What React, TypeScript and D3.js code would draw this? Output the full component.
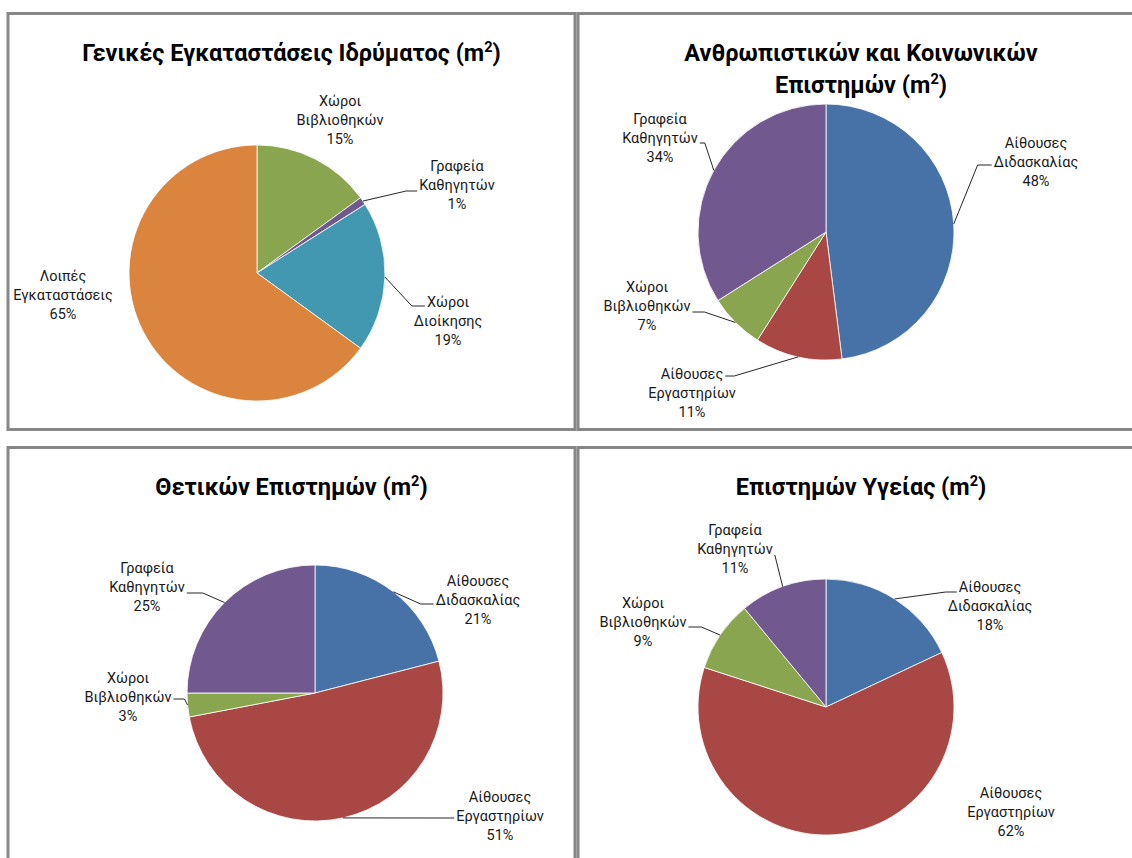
import React, { useEffect, useRef } from "react";
import * as d3 from "d3";

const W = 1132;
const H = 858;

// ---- data ----
const generalTitle = ["Γενικές Εγκαταστάσεις Ιδρύματος (m²)"];
const generalCategories = ["Χώροι Βιβλιοθηκών", "Γραφεία Καθηγητών", "Χώροι Διοίκησης", "Λοιπές Εγκαταστάσεις"];
const generalValues = [15, 1, 19, 65];
const generalColors = ["#8aa54f", "#71598f", "#4198b0", "#db843d"];

const facultyCategories = ["Αίθουσες Διδασκαλίας", "Αίθουσες Εργαστηρίων", "Χώροι Βιβλιοθηκών", "Γραφεία Καθηγητών"];
const facultyColors = ["#4672a8", "#a94744", "#8aa54f", "#71598f"];

const humanitiesTitle = ["Ανθρωπιστικών και Κοινωνικών", "Επιστημών (m²)"];
const humanitiesValues = [48, 11, 7, 34];

const sciencesTitle = ["Θετικών Επιστημών (m²)"];
const sciencesValues = [21, 51, 3, 25];

const healthTitle = ["Επιστημών Υγείας (m²)"];
const healthValues = [18, 62, 9, 11];

// ---- layout ----
const FONT = "Roboto, 'Noto Sans', sans-serif";
const TITLE_SIZE = 23.5;
const LABEL_SIZE = 14.5;
const LINE_H = 19;
const R = 128;

type Lead = { line: number; dy: number; h: number };
type LabelPos = { dx: number; dy: number; lead?: Lead };
type Panel = {
  title: string[];
  categories: string[];
  values: number[];
  colors: string[];
  box: [number, number, number, number];
  center: [number, number];
  titleY: number[];
  labels: LabelPos[];
};

const panels: Panel[] = [
  {
    title: generalTitle,
    categories: generalCategories,
    values: generalValues,
    colors: generalColors,
    box: [8, 13.5, 567, 416],
    center: [257, 273],
    titleY: [61],
    labels: [
      { dx: 83, dy: -153 },
      { dx: 200, dy: -88, lead: { line: 1, dy: 6, h: 11 } },
      { dx: 191, dy: 48, lead: { line: 0, dy: 4, h: 13 } },
      { dx: -194, dy: 22 },
    ],
  },
  {
    title: humanitiesTitle,
    categories: facultyCategories,
    values: humanitiesValues,
    colors: facultyColors,
    box: [578, 13.5, 566, 416],
    center: [826, 232],
    titleY: [61, 93],
    labels: [
      { dx: 210, dy: -70, lead: { line: 1, dy: 3, h: 14 } },
      { dx: -134, dy: 161, lead: { line: 0, dy: 2, h: 9 } },
      { dx: -179, dy: 74, lead: { line: 1, dy: 6, h: 12 } },
      { dx: -166, dy: -94, lead: { line: 1, dy: 5, h: 5 } },
    ],
  },
  {
    title: sciencesTitle,
    categories: facultyCategories,
    values: sciencesValues,
    colors: facultyColors,
    box: [8, 447.5, 567, 430],
    center: [315, 693],
    titleY: [495],
    labels: [
      { dx: 163, dy: -93, lead: { line: 1, dy: 4, h: 13 } },
      { dx: 185, dy: 123, lead: { line: 1, dy: 2, h: 13 } },
      { dx: -187, dy: 4, lead: { line: 1, dy: 2, h: 11 } },
      { dx: -168, dy: -106, lead: { line: 1, dy: 6, h: 16 } },
    ],
  },
  {
    title: healthTitle,
    categories: facultyCategories,
    values: healthValues,
    colors: facultyColors,
    box: [578, 447.5, 566, 430],
    center: [826, 707],
    titleY: [495],
    labels: [
      { dx: 164, dy: -101, lead: { line: 0, dy: 5, h: 11 } },
      { dx: 185, dy: 105 },
      { dx: -183, dy: -85, lead: { line: 1, dy: 5, h: 13 } },
      { dx: -91, dy: -158, lead: { line: 1, dy: 6, h: 0 } },
    ],
  },
];

export default function App() {
  const ref = useRef<SVGSVGElement>(null);

  useEffect(() => {
    const svg = d3.select(ref.current);
    svg.selectAll("*").remove();
    svg.append("rect").attr("width", W).attr("height", H).attr("fill", "#ffffff");

    panels.forEach((p) => {
      const g = svg.append("g");
      g.append("rect")
        .attr("x", p.box[0])
        .attr("y", p.box[1])
        .attr("width", p.box[2])
        .attr("height", p.box[3])
        .attr("fill", "#ffffff")
        .attr("stroke", "#878787")
        .attr("stroke-width", 3);

      const tcx = p.box[0] + p.box[2] / 2;
      p.title.forEach((line, i) => {
        const t = g
          .append("text")
          .attr("x", tcx)
          .attr("y", p.titleY[i])
          .attr("text-anchor", "middle")
          .attr("font-family", FONT)
          .attr("font-weight", 700)
          .attr("font-size", TITLE_SIZE)
          .attr("fill", "#000000");
        const parts = line.split("²");
        t.append("tspan").text(parts[0]);
        if (parts.length > 1) {
          t.append("tspan").attr("font-size", TITLE_SIZE * 0.62).attr("dy", -9).text("2");
          t.append("tspan").attr("dy", 9).text(parts[1]);
        }
      });

      const pie = d3.pie<number>().sort(null).value((d) => d);
      const arcs = pie(p.values);
      const arc = d3.arc<d3.PieArcDatum<number>>().innerRadius(0).outerRadius(R);
      const pg = g.append("g").attr("transform", `translate(${p.center[0]},${p.center[1]})`);
      pg.selectAll("path")
        .data(arcs)
        .join("path")
        .attr("d", arc as any)
        .attr("fill", (_d, i) => p.colors[i])
        .attr("stroke", "#ffffff")
        .attr("stroke-opacity", 0.8)
        .attr("stroke-width", 1);

      const total = d3.sum(p.values);
      arcs.forEach((a, i) => {
        const L = p.labels[i];
        const words = p.categories[i].split(" ");
        const lines = [...words, Math.round((a.data / total) * 100) + "%"];
        const lx = p.center[0] + L.dx;
        const ly = p.center[1] + L.dy;
        const widths: number[] = [];
        lines.forEach((s, k) => {
          const t = g
            .append("text")
            .attr("x", lx)
            .attr("y", ly + (k - 1) * LINE_H + 5)
            .attr("text-anchor", "middle")
            .attr("font-family", FONT)
            .attr("font-size", LABEL_SIZE)
            .attr("fill", "#1a1a1a")
            .text(s);
          widths.push((t.node() as SVGTextElement).getComputedTextLength());
        });
        if (L.lead) {
          const mid = (a.startAngle + a.endAngle) / 2;
          const px = p.center[0] + R * Math.sin(mid);
          const py = p.center[1] - R * Math.cos(mid);
          const right = lx > px;
          const w = widths[L.lead.line];
          const ex = right ? lx - w / 2 - 2 : lx + w / 2 + 2;
          const ey = ly + (L.lead.line - 1) * LINE_H + L.lead.dy;
          const kx = right ? ex - L.lead.h : ex + L.lead.h;
          g.append("path")
            .attr("d", `M${px},${py}L${kx},${ey}L${ex},${ey}`)
            .attr("fill", "none")
            .attr("stroke", "#262626")
            .attr("stroke-width", 1);
        }
      });
    });
  }, []);

  return (
    <div style={{ position: "absolute", left: 0, top: 0 }}>
      <svg ref={ref} width={W} height={H} style={{ display: "block" }} />
    </div>
  );
}
